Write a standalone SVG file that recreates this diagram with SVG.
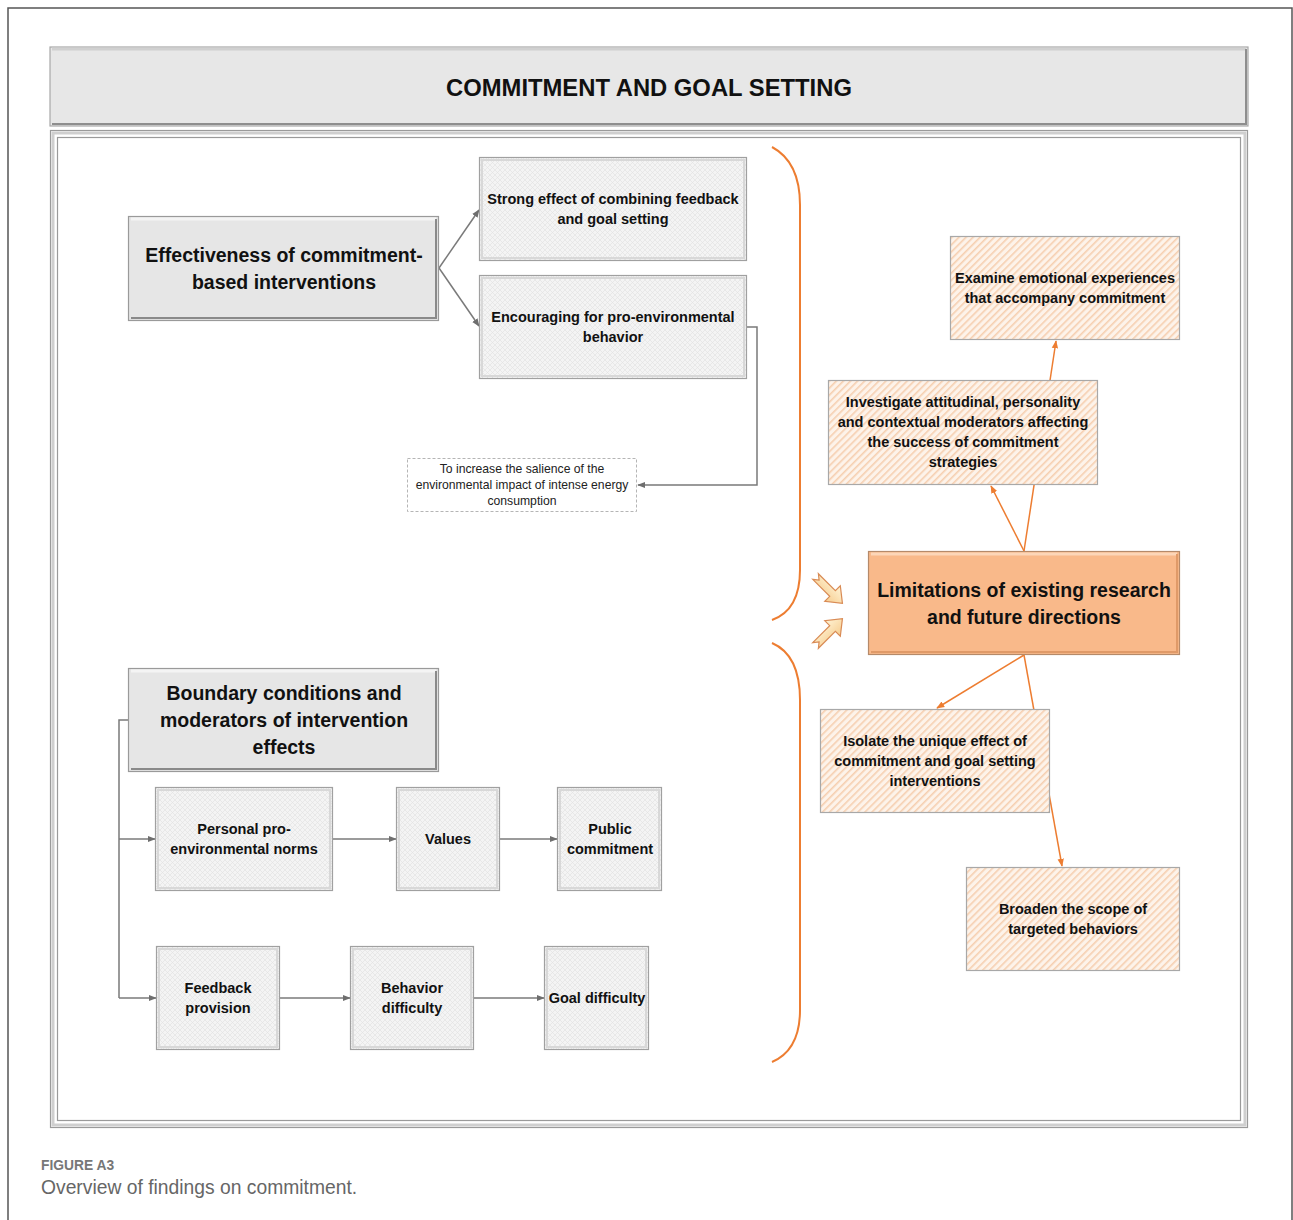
<svg xmlns="http://www.w3.org/2000/svg" width="1293" height="1220" viewBox="0 0 1293 1220">
<style>
.t{font-family:"Liberation Sans",Arial,sans-serif;font-weight:bold;fill:#111;text-anchor:middle}
.big{font-size:19.5px}
.sm{font-size:14.5px}
.note{font-family:"Liberation Sans",Arial,sans-serif;font-size:12.2px;fill:#222;text-anchor:middle}
.gbox{fill:url(#xhatch);stroke:#a0a0a0;stroke-width:1.2}
.gin{fill:none;stroke:#d8d8d8;stroke-width:2}
.obox{fill:url(#ohatch);stroke:#a8a8a8;stroke-width:1.2}
.title{fill:#e6e6e6;stroke:#9a9a9a;stroke-width:1.2}
.gc{fill:none;stroke:#7a7a7a;stroke-width:1.5}
.oc{fill:none;stroke:#ed7d31;stroke-width:1.5}
</style>
<defs>
<pattern id="xhatch" width="5" height="5" patternUnits="userSpaceOnUse">
<rect width="5" height="5" fill="#f4f4f4"/>
<path d="M0,0L5,5M5,0L0,5" stroke="#e2e2e2" stroke-width="0.7"/>
</pattern>
<pattern id="ohatch" width="5" height="5" patternUnits="userSpaceOnUse" patternTransform="rotate(45)">
<rect width="5" height="5" fill="#fdf3ea"/>
<rect width="1.6" height="5" fill="#f6cfb0"/>
</pattern>
<linearGradient id="blk" x1="0" y1="0" x2="0" y2="1">
<stop offset="0" stop-color="#fff4d6"/>
<stop offset="1" stop-color="#f6cc8e"/>
</linearGradient>
<marker id="ga" viewBox="0 0 10 10" refX="9" refY="5" markerWidth="8" markerHeight="8" orient="auto" markerUnits="userSpaceOnUse">
<path d="M0,1L10,5L0,9z" fill="#6e6e6e"/>
</marker>
<marker id="oa" viewBox="0 0 10 10" refX="9" refY="5" markerWidth="8" markerHeight="8" orient="auto" markerUnits="userSpaceOnUse">
<path d="M0,1L10,5L0,9z" fill="#ed7d31"/>
</marker>
</defs>
<rect width="1293" height="1220" fill="#fff"/>
<path d="M8,1220V8H1292V1220" fill="none" stroke="#555" stroke-width="1.5"/>

<g id="header">
<rect x="50" y="47" width="1198" height="79" fill="#e7e7e7" stroke="#a8a8a8" stroke-width="1.2"/>
<path d="M52,49H1246" stroke="#d0d0d0" stroke-width="3"/>
<path d="M1246,49V124H52" fill="none" stroke="#8e8e8e" stroke-width="2"/>
<text x="649" y="96" class="t" style="font-size:23.8px">COMMITMENT AND GOAL SETTING</text>
</g>
<g id="panel">
<rect x="50.5" y="130.5" width="1197" height="997" fill="#fff" stroke="#9a9a9a" stroke-width="1.2"/>
<rect x="53" y="133" width="1192" height="992" fill="none" stroke="#cfcfcf" stroke-width="3"/>
<rect x="57.5" y="137.5" width="1183" height="983" fill="none" stroke="#9a9a9a" stroke-width="1.2"/>
</g>

<g id="connectors">
<path class="gc" d="M439,268L479,210" marker-end="url(#ga)"/>
<path class="gc" d="M439,268L479,326" marker-end="url(#ga)"/>
<path class="gc" d="M747,327H757V485H638" marker-end="url(#ga)"/>
<path class="gc" d="M128,720H119V998"/>
<path class="gc" d="M119,839H155" marker-end="url(#ga)"/>
<path class="gc" d="M119,998H156" marker-end="url(#ga)"/>
<path class="gc" d="M333,839H396" marker-end="url(#ga)"/>
<path class="gc" d="M500,839H557" marker-end="url(#ga)"/>
<path class="gc" d="M280,998H350" marker-end="url(#ga)"/>
<path class="gc" d="M474,998H544" marker-end="url(#ga)"/>
<path class="oc" d="M1024,551L1056,341" marker-end="url(#oa)"/>
<path class="oc" d="M1024,551L991,486" marker-end="url(#oa)"/>
<path class="oc" d="M1024,655L937,708" marker-end="url(#oa)"/>
<path class="oc" d="M1024,655L1062,866" marker-end="url(#oa)"/>
<path d="M772,147Q800,162 800,205V570Q800,610 772,620" fill="none" stroke="#ed7d31" stroke-width="2"/>
<path d="M772,643Q800,655 800,700V1010Q800,1050 772,1062" fill="none" stroke="#ed7d31" stroke-width="2"/>
<path d="M-19,-4H5V-11L19,0L5,11V4H-19L-14,0Z" transform="translate(829,590) rotate(45)" fill="url(#blk)" stroke="#d98b55" stroke-width="1.2"/>
<path d="M-19,-4H5V-11L19,0L5,11V4H-19L-14,0Z" transform="translate(829,632) rotate(-45)" fill="url(#blk)" stroke="#d98b55" stroke-width="1.2"/>
</g>

<g id="effectiveness">
<rect x="128.5" y="216.5" width="310" height="104" class="title"/>
<path d="M131,219H436" stroke="#f4f4f4" stroke-width="3"/>
<path d="M436,219V318H131" fill="none" stroke="#8a8a8a" stroke-width="2"/>
<text class="t big" x="284" y="262">Effectiveness of commitment-</text>
<text class="t big" x="284" y="289">based interventions</text>
</g>
<g id="strong">
<rect x="479.5" y="157.5" width="267" height="103" class="gbox"/>
<rect x="482" y="160" width="262" height="98" class="gin"/>
<text class="t sm" x="613" y="204">Strong effect of combining feedback</text>
<text class="t sm" x="613" y="224">and goal setting</text>
</g>
<g id="encouraging">
<rect x="479.5" y="275.5" width="267" height="103" class="gbox"/>
<rect x="482" y="278" width="262" height="98" class="gin"/>
<text class="t sm" x="613" y="322">Encouraging for pro-environmental</text>
<text class="t sm" x="613" y="342">behavior</text>
</g>
<g id="salience">
<rect x="407.5" y="458.5" width="229" height="53" fill="#fff" stroke="#b5b5b5" stroke-dasharray="3,2"/>
<text class="note" x="522" y="473">To increase the salience of the</text>
<text class="note" x="522" y="489">environmental impact of intense energy</text>
<text class="note" x="522" y="505">consumption</text>
</g>

<g id="examine">
<rect x="950.5" y="236.5" width="229" height="103" class="obox"/>
<text class="t sm" x="1065" y="283">Examine emotional experiences</text>
<text class="t sm" x="1065" y="303">that accompany commitment</text>
</g>
<g id="investigate">
<rect x="828.5" y="380.5" width="269" height="104" class="obox"/>
<text class="t sm" x="963" y="407">Investigate attitudinal, personality</text>
<text class="t sm" x="963" y="427">and contextual moderators affecting</text>
<text class="t sm" x="963" y="447">the success of commitment</text>
<text class="t sm" x="963" y="467">strategies</text>
</g>
<g id="limitations">
<rect x="868.5" y="551.5" width="311" height="103" fill="#f9b98a" stroke="#b58a6a" stroke-width="1.2"/>
<path d="M871,554H1177" stroke="#fcd6b8" stroke-width="3"/>
<path d="M1177,554V652H871" fill="none" stroke="#e09a68" stroke-width="2"/>
<text class="t big" x="1024" y="597">Limitations of existing research</text>
<text class="t big" x="1024" y="624">and future directions</text>
</g>
<g id="isolate">
<rect x="820.5" y="709.5" width="229" height="103" class="obox"/>
<text class="t sm" x="935" y="746">Isolate the unique effect of</text>
<text class="t sm" x="935" y="766">commitment and goal setting</text>
<text class="t sm" x="935" y="786">interventions</text>
</g>
<g id="broaden">
<rect x="966.5" y="867.5" width="213" height="103" class="obox"/>
<text class="t sm" x="1073" y="914">Broaden the scope of</text>
<text class="t sm" x="1073" y="934">targeted behaviors</text>
</g>

<g id="boundary">
<rect x="128.5" y="668.5" width="310" height="103" class="title"/>
<path d="M131,671H436" stroke="#f4f4f4" stroke-width="3"/>
<path d="M436,671V769H131" fill="none" stroke="#8a8a8a" stroke-width="2"/>
<text class="t big" x="284" y="700">Boundary conditions and</text>
<text class="t big" x="284" y="727">moderators of intervention</text>
<text class="t big" x="284" y="754">effects</text>
</g>
<g id="personal">
<rect x="155.5" y="787.5" width="177" height="103" class="gbox"/>
<rect x="158" y="790" width="172" height="98" class="gin"/>
<text class="t sm" x="244" y="834">Personal pro-</text>
<text class="t sm" x="244" y="854">environmental norms</text>
</g>
<g id="values">
<rect x="396.5" y="787.5" width="103" height="103" class="gbox"/>
<rect x="399" y="790" width="98" height="98" class="gin"/>
<text class="t sm" x="448" y="844">Values</text>
</g>
<g id="public">
<rect x="557.5" y="787.5" width="104" height="103" class="gbox"/>
<rect x="560" y="790" width="99" height="98" class="gin"/>
<text class="t sm" x="610" y="834">Public</text>
<text class="t sm" x="610" y="854">commitment</text>
</g>
<g id="feedback">
<rect x="156.5" y="946.5" width="123" height="103" class="gbox"/>
<rect x="159" y="949" width="118" height="98" class="gin"/>
<text class="t sm" x="218" y="993">Feedback</text>
<text class="t sm" x="218" y="1013">provision</text>
</g>
<g id="behavior">
<rect x="350.5" y="946.5" width="123" height="103" class="gbox"/>
<rect x="353" y="949" width="118" height="98" class="gin"/>
<text class="t sm" x="412" y="993">Behavior</text>
<text class="t sm" x="412" y="1013">difficulty</text>
</g>
<g id="goal">
<rect x="544.5" y="946.5" width="104" height="103" class="gbox"/>
<rect x="547" y="949" width="99" height="98" class="gin"/>
<text class="t sm" x="597" y="1003">Goal difficulty</text>
</g>

<g id="caption">
<text x="41" y="1170" style="font-family:'Liberation Sans',Arial,sans-serif;font-size:13.8px;font-weight:bold;fill:#777">FIGURE A3</text>
<text x="41" y="1194" style="font-family:'Liberation Sans',Arial,sans-serif;font-size:19.3px;fill:#666">Overview of findings on commitment.</text>
</g>
</svg>
